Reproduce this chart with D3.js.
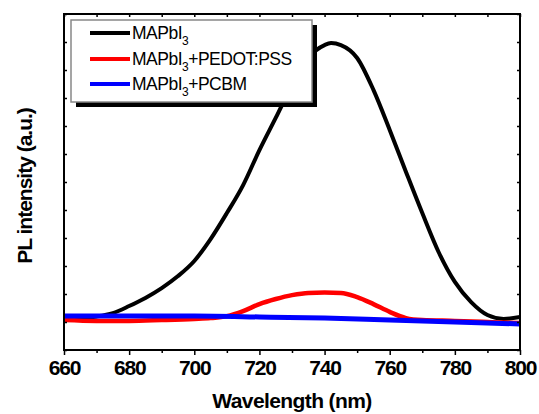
<!DOCTYPE html>
<html>
<head>
<meta charset="utf-8">
<script src="https://cdn.jsdelivr.net/npm/d3@7"></script>
<style>
  html, body { margin: 0; padding: 0; background: #fff; }
  svg { display: block; font-family: Arial, "Liberation Sans", sans-serif; }
</style>
</head>
<body>
<svg id="chart" width="539" height="414"></svg>
<script>
// Wavelength samples (nm) and PL intensity (a.u.) for each film
const wlBlack = [660, 665, 670, 675, 680, 685, 690, 695, 700, 705, 710, 715, 720, 725, 730, 735, 740, 742, 745, 750, 755, 760, 765, 770, 775, 780, 785, 790, 795, 800];
const plBlack = [1.14, 1.14, 1.20, 1.32, 1.57, 1.86, 2.21, 2.64, 3.18, 3.96, 4.89, 5.89, 7.14, 8.29, 9.46, 10.43, 10.89, 10.96, 10.89, 10.43, 9.29, 7.86, 6.36, 4.89, 3.50, 2.43, 1.71, 1.25, 1.11, 1.18];

const wlRed = [660, 670, 680, 690, 700, 705, 710, 715, 720, 725, 730, 735, 740, 745, 750, 755, 760, 765, 770, 780, 790, 800];
const plRed = [1.07, 1.04, 1.04, 1.07, 1.11, 1.14, 1.21, 1.39, 1.64, 1.82, 1.96, 2.04, 2.05, 2.04, 1.89, 1.64, 1.36, 1.14, 1.07, 1.04, 1.00, 0.96];

const wlBlue = [660, 680, 700, 720, 740, 760, 780, 800];
const plBlue = [1.21, 1.21, 1.21, 1.18, 1.14, 1.07, 1.00, 0.93];

const seriesNames = ["MAPbI", "MAPbI", "MAPbI"];
const seriesSuffix = ["", "+PEDOT:PSS", "+PCBM"];
const seriesColors = ["#000000", "#ff0000", "#0000ff"];

const xTicks = [660, 680, 700, 720, 740, 760, 780, 800];
const xLabel = "Wavelength (nm)";
const yLabel = "PL intensity (a.u.)";

const svg = d3.select("#chart");
const mLeft = 64, mRight = 520, mTop = 14, mBottom = 350;

const x = d3.scaleLinear().domain([660, 800]).range([mLeft, mRight]);
const y = d3.scaleLinear().domain([0, 12]).range([mBottom, mTop]);

// Curves
const series = [
  { wl: wlBlack, pl: plBlack, w: 4 },
  { wl: wlRed, pl: plRed, w: 4.5 },
  { wl: wlBlue, pl: plBlue, w: 5 }
];
const line = d3.line().curve(d3.curveMonotoneX).x(d => x(d[0])).y(d => y(d[1]));
const plot = svg.append("g");
series.forEach((s, i) => {
  plot.append("path")
    .datum(s.wl.map((w, k) => [w, s.pl[k]]))
    .attr("fill", "none")
    .attr("stroke", seriesColors[i])
    .attr("stroke-width", s.w)
    .attr("stroke-linejoin", "round")
    .attr("d", line);
});

// Axes
const minorX = d3.range(660, 801, 10);
const yTickVals = d3.range(0, 12.01, 1);

const bottomAxis = svg.append("g").attr("transform", `translate(0,${mBottom})`);
bottomAxis.call(d3.axisBottom(x).tickValues(xTicks).tickSize(5).tickSizeOuter(0).tickFormat(d3.format("d")));
bottomAxis.append("g").call(d3.axisBottom(x).tickValues(minorX.filter(v => v % 20 !== 0)).tickSize(3).tickSizeOuter(0).tickFormat(""));

const topAxis = svg.append("g").attr("transform", `translate(0,${mTop})`);
topAxis.call(d3.axisBottom(x).tickValues(minorX).tickSize(3).tickSizeOuter(0).tickFormat(""));

const leftAxis = svg.append("g").attr("transform", `translate(${mLeft},0)`);
leftAxis.call(d3.axisRight(y).tickValues(yTickVals).tickSize(3).tickSizeOuter(0).tickFormat(""));

const rightAxis = svg.append("g").attr("transform", `translate(${mRight},0)`);
rightAxis.call(d3.axisLeft(y).tickValues(yTickVals).tickSize(3).tickSizeOuter(0).tickFormat(""));

svg.selectAll(".domain").remove();
svg.selectAll(".tick line").attr("stroke", "#000").attr("stroke-width", 1.5);
bottomAxis.selectAll(".tick text")
  .attr("dy", 0).attr("y", 25)
  .style("font-size", "21px").style("font-weight", "bold").style("letter-spacing", "-1.2px")
  .attr("fill", "#000")
  .attr("font-family", "Arial, 'Liberation Sans', sans-serif");

// Frame
svg.append("rect")
  .attr("x", mLeft).attr("y", mTop)
  .attr("width", mRight - mLeft).attr("height", mBottom - mTop)
  .attr("fill", "none").attr("stroke", "#000").attr("stroke-width", 2);

// Axis titles
svg.append("text")
  .attr("x", (mLeft + mRight) / 2).attr("y", 408)
  .attr("text-anchor", "middle")
  .style("font-size", "21px").style("font-weight", "bold").style("letter-spacing", "-0.6px")
  .text(xLabel);

svg.append("text")
  .attr("transform", `translate(32,${(mTop + mBottom) / 2 + 4}) rotate(-90)`)
  .attr("text-anchor", "middle")
  .style("font-size", "21px").style("font-weight", "bold").style("letter-spacing", "-1px")
  .text(yLabel);

// Legend with drop shadow
const lg = { x: 71, y: 20, w: 241, h: 82 };
svg.append("rect")
  .attr("x", lg.x + 5).attr("y", lg.y + 5)
  .attr("width", lg.w).attr("height", lg.h)
  .attr("fill", "#000");
svg.append("rect")
  .attr("x", lg.x).attr("y", lg.y)
  .attr("width", lg.w).attr("height", lg.h)
  .attr("fill", "#fff").attr("stroke", "#888").attr("stroke-width", 1.5);

const rowY = [33, 59, 84];
seriesNames.forEach((name, i) => {
  svg.append("line")
    .attr("x1", 90).attr("x2", 130)
    .attr("y1", rowY[i]).attr("y2", rowY[i])
    .attr("stroke", seriesColors[i]).attr("stroke-width", 4);
  const t = svg.append("text")
    .attr("x", 132).attr("y", rowY[i] + 6)
    .style("font-size", "17.5px").style("letter-spacing", "-0.5px");
  t.append("tspan").text(name);
  t.append("tspan").attr("dy", 6).style("font-size", "12px").text("3");
  t.append("tspan").attr("dy", -6).text(seriesSuffix[i]);
});
</script>
</body>
</html>
